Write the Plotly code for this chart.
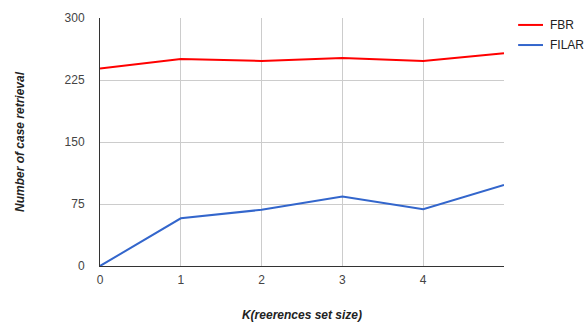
import plotly.graph_objects as go

k_values = [0, 1, 2, 3, 4, 5]
fbr = [239, 250.5, 248, 251.5, 248, 257.5]
filar = [0, 57.7, 68, 84, 68.6, 98]
x_ticks = [0, 1, 2, 3, 4]
y_ticks = [0, 75, 150, 225, 300]
series_names = ["FBR", "FILAR"]
series_colors = ["#ff0000", "#3366cc"]

fig = go.Figure()
for name, vals, col in zip(series_names, [fbr, filar], series_colors):
    fig.add_trace(go.Scatter(x=k_values, y=vals, mode="lines", name=name,
                             line=dict(color=col, width=2), showlegend=False))

# manual legend (right of plot)
legend_y = [0.972, 0.891]
for name, col, ly in zip(series_names, series_colors, legend_y):
    fig.add_shape(type="line", xref="paper", yref="paper",
                  x0=1.035, x1=1.0965, y0=ly, y1=ly,
                  line=dict(color=col, width=2))
    fig.add_annotation(xref="paper", yref="paper", x=1.11, y=ly,
                       xanchor="left", yanchor="middle", text=name,
                       showarrow=False, font=dict(size=12, color="#222"))

fig.update_layout(
    width=586, height=322,
    margin=dict(l=100, r=82, t=18, b=56, autoexpand=False),
    paper_bgcolor="white", plot_bgcolor="white",
    font=dict(family="Liberation Sans, Arial", size=12, color="#444"),
    xaxis=dict(range=[0, 5], tickvals=x_ticks, showgrid=True, gridcolor="#cccccc",
               zeroline=False, showline=True, linecolor="#333333", linewidth=1,
               ticks="", tickfont=dict(size=12, color="#444"), ticklabelstandoff=3,
               title=dict(text="<b><i>K(reerences set size)</i></b>",
                          font=dict(size=12, color="#222"), standoff=25)),
    yaxis=dict(range=[0, 300], tickvals=y_ticks, showgrid=True, gridcolor="#cccccc",
               zeroline=False, showline=True, linecolor="#333333", linewidth=1,
               ticks="", tickfont=dict(size=12, color="#444"), ticklabelstandoff=12,
               title=dict(text="<b><i>Number of case retrieval</i></b>",
                          font=dict(size=12, color="#222"), standoff=37)),
)

fig.write_html("out.html")
